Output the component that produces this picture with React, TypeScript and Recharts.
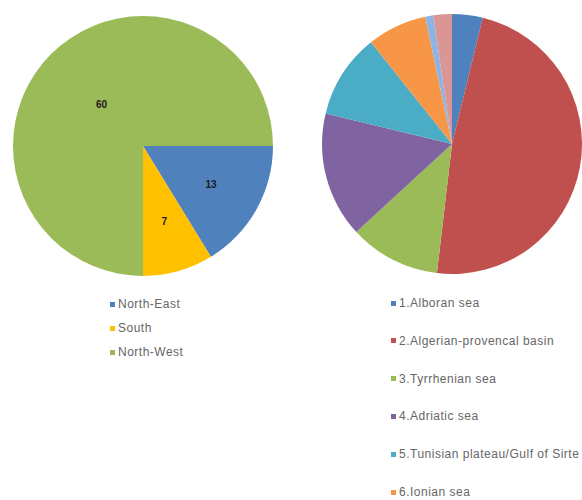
import { PieChart, Pie, Cell } from "recharts";

// left pie: regions
const regionNames = ["North-East", "South", "North-West"];
const regionValues = [13, 7, 60];
const regionColors = ["#4F81BD", "#FFC000", "#9BBB59"];

// right pie: basins (last two are cut off in the legend)
const basinNames = [
  "1.Alboran sea",
  "2.Algerian-provencal basin",
  "3.Tyrrhenian sea",
  "4.Adriatic sea",
  "5.Tunisian plateau/Gulf of Sirte",
  "6.Ionian sea",
  "7.Aegean sea",
  "8.Levantine sea",
];
const basinValues = [3.8, 48.0, 11.3, 15.6, 10.5, 7.4, 1.0, 2.3];
const basinColors = ["#4F81BD", "#C0504D", "#9BBB59", "#8064A2", "#4BACC6", "#F79646", "#8EB4E3", "#DA9694"];
const visibleBasinLegend = 6;

const regionData = regionNames.map((name, i) => ({ name, value: regionValues[i] }));
const basinData = basinNames.map((name, i) => ({ name, value: basinValues[i] }));

const RADIAN = Math.PI / 180;

const renderLabel = (props: any) => {
  const { cx, cy, midAngle, outerRadius, value, percent } = props;
  const r = outerRadius * (percent > 0.5 ? 0.45 : 0.6);
  const x = cx + r * Math.cos(-midAngle * RADIAN);
  const y = cy + r * Math.sin(-midAngle * RADIAN);
  return (
    <text
      x={x}
      y={y}
      fill="#1a1a1a"
      fontSize={10}
      fontWeight="bold"
      fontFamily="'Liberation Sans', Arial, sans-serif"
      textAnchor="middle"
      dominantBaseline="central"
    >
      {value}
    </text>
  );
};

const legendText: React.CSSProperties = {
  fontFamily: "'Liberation Sans', Arial, sans-serif",
  fontSize: 12,
  letterSpacing: 0.5,
  lineHeight: "14px",
  color: "#666",
  whiteSpace: "nowrap",
};

const LegendList = ({ names, colors, left, top, gap }: { names: string[]; colors: string[]; left: number; top: number; gap: number }) => (
  <div style={{ position: "absolute", left, top }}>
    {names.map((n, i) => (
      <div key={n} style={{ position: "absolute", top: i * gap, left: 0, display: "flex", alignItems: "center", ...legendText }}>
        <span style={{ display: "inline-block", width: 5, height: 5, background: colors[i], marginRight: 3 }} />
        {n}
      </div>
    ))}
  </div>
);

export default function App() {
  return (
    <div style={{ position: "absolute", left: 0, top: 0, width: 582, height: 500, overflow: "hidden", background: "#fff" }}>
      <PieChart width={582} height={290} margin={{ top: 0, right: 0, bottom: 0, left: 0 }}>
        <Pie
          data={regionData}
          dataKey="value"
          cx={143}
          cy={146}
          outerRadius={130}
          startAngle={0}
          endAngle={-360}
          stroke="none"
          label={renderLabel}
          labelLine={false}
          isAnimationActive={false}
        >
          {regionData.map((d, i) => (
            <Cell key={d.name} fill={regionColors[i]} />
          ))}
        </Pie>
        <Pie
          data={basinData}
          dataKey="value"
          cx={452}
          cy={144}
          outerRadius={130}
          startAngle={90}
          endAngle={-270}
          stroke="none"
          isAnimationActive={false}
        >
          {basinData.map((d, i) => (
            <Cell key={d.name} fill={basinColors[i]} />
          ))}
        </Pie>
      </PieChart>
      <LegendList names={regionNames} colors={regionColors} left={110} top={297} gap={24} />
      <LegendList
        names={basinNames.slice(0, visibleBasinLegend)}
        colors={basinColors}
        left={391}
        top={296}
        gap={37.8}
      />
    </div>
  );
}
